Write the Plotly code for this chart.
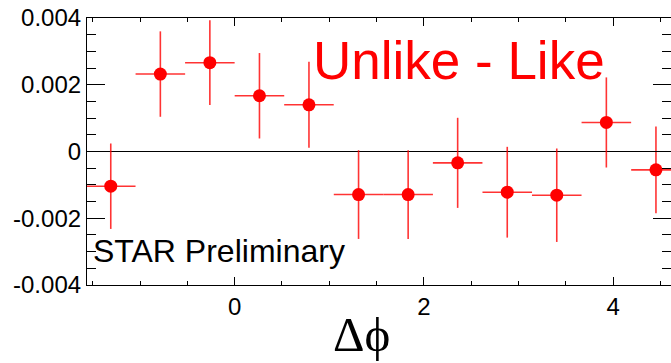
import plotly.graph_objects as go

# Data
dphi = [-1.309, -0.785, -0.262, 0.262, 0.785, 1.309, 1.833, 2.356, 2.880, 3.403, 3.927, 4.451]
values = [-0.00104, 0.00232, 0.00266, 0.00167, 0.00140, -0.00129, -0.00129, -0.00034, -0.00122, -0.00131, 0.00087, -0.00055]
y_err = [0.00128, 0.00128, 0.00127, 0.00128, 0.00129, 0.00133, 0.00133, 0.00135, 0.00136, 0.00140, 0.00135, 0.00130]
x_err = [0.2618] * 12

y_tickvals = [-0.004, -0.002, 0, 0.002, 0.004]
y_ticktext = ["-0.004", "-0.002", "0", "0.002", "0.004"]
x_tickvals = [0, 2, 4]
x_ticktext = ["0", "2", "4"]

fig = go.Figure()
fig.add_trace(go.Scatter(
    x=dphi, y=values, mode="markers",
    marker=dict(color="#ff0000", size=13, line=dict(width=0)),
    error_y=dict(type="data", array=y_err, visible=True, color="rgba(255,0,0,0.8)", thickness=1.6, width=0),
    error_x=dict(type="data", array=x_err, visible=True, color="rgba(255,0,0,0.8)", thickness=1.6, width=0),
    showlegend=False,
))

L, R, T, B = 87, 0, 17.5, 78
W, H = 671, 363
pw, ph = W - L - R, H - T - B

def px(x):
    return (x - L) / pw

def py(y):
    return (H - B - y) / ph

fig.update_layout(
    width=W, height=H,
    margin=dict(l=L, r=R, t=T, b=B, pad=0),
    paper_bgcolor="white", plot_bgcolor="white",
    font=dict(family="Liberation Sans, Arial, sans-serif", color="black"),
    xaxis=dict(
        range=[-1.56, 4.61], showgrid=False, zeroline=False,
        showline=True, linecolor="black", linewidth=1.2, mirror="ticks",
        ticks="inside", ticklen=8, tickwidth=1.2, tickcolor="black",
        tickvals=x_tickvals, ticktext=x_ticktext,
        tickfont=dict(size=24, color="black"),
        minor=dict(dtick=0.5, tick0=0, ticks="inside", ticklen=4, tickwidth=1.2, tickcolor="black", showgrid=False),
    ),
    yaxis=dict(
        range=[-0.004, 0.004], showgrid=False,
        zeroline=True, zerolinecolor="black", zerolinewidth=1.2,
        showline=True, linecolor="black", linewidth=1.2, mirror="ticks",
        ticks="inside", ticklen=18, tickwidth=1.2, tickcolor="black",
        tickvals=y_tickvals, ticktext=y_ticktext,
        tickfont=dict(size=24, color="black"),
        minor=dict(dtick=0.0005, tick0=0, ticks="inside", ticklen=9, tickwidth=1.2, tickcolor="black", showgrid=False),
    ),
)

fig.add_annotation(
    text="Unlike - Like", xref="paper", yref="paper",
    x=px(311), y=py(60), xanchor="left", yanchor="middle", showarrow=False,
    font=dict(size=53, color="#ff0000", family="Liberation Sans, Arial, sans-serif"),
)
fig.add_annotation(
    text="STAR Preliminary", xref="paper", yref="paper",
    x=px(91), y=py(251), xanchor="left", yanchor="middle", showarrow=False,
    font=dict(size=32, color="black", family="Liberation Sans, Arial, sans-serif"),
)
fig.add_annotation(
    text="Δϕ", xref="paper", yref="paper",
    x=px(361), y=py(334.5), xanchor="center", yanchor="middle", showarrow=False,
    font=dict(size=49, color="black", family="Liberation Serif, DejaVu Serif, serif"),
)

fig.write_html("out.html")
